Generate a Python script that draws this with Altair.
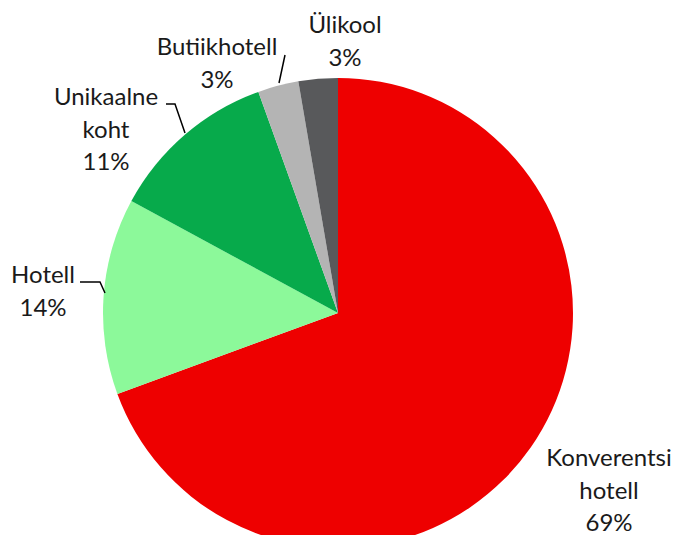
import altair as alt
import pandas as pd

# ---- data ----
categories = ["Konverentsi hotell", "Hotell", "Unikaalne koht", "Butiikhotell", "Ülikool"]
shares = [69.4, 13.5, 11.6, 2.8, 2.7]
label_texts = ["Konverentsi\nhotell\n69%", "Hotell\n14%", "Unikaalne\nkoht\n11%", "Butiikhotell\n3%", "Ülikool\n3%"]
colors = ["#EE0000", "#8CF99A", "#07AA4B", "#B4B4B4", "#58595B"]

# ---- layout (label anchors = first-line centres, leader lines; pixels) ----
label_x = [601, 35, 98, 209, 337]
label_y = [451, 268, 90, 40, 18]
leader_id = ["u", "u", "u", "b", "b", "h", "h", "h"]
leader_x = [158, 167, 177, 277, 271, 72, 92, 97]
leader_y = [96, 96, 125, 47, 75, 274, 274, 285]
leader_ord = [0, 1, 2, 0, 1, 0, 1, 2]

pie_df = pd.DataFrame({"kategooria": categories, "osakaal": shares, "jrk": list(range(len(categories)))})
lab_df = pd.DataFrame({"kategooria": categories, "tekst": label_texts, "lx": label_x, "ly": label_y})
lead_df = pd.DataFrame({"id": leader_id, "x": leader_x, "y": leader_y, "o": leader_ord})

pie = alt.Chart(pie_df).mark_arc(outerRadius=235, stroke=None).encode(
    theta=alt.Theta("osakaal:Q", stack=True),
    order=alt.Order("jrk:Q"),
    color=alt.Color("kategooria:N", scale=alt.Scale(domain=categories, range=colors), legend=None),
    x=alt.value(330),
    y=alt.value(305),
)

labels = alt.Chart(lab_df).mark_text(
    font="Lato", fontSize=24, color="#1a1a1a", lineBreak="\n", lineHeight=32.5,
    align="center", baseline="middle",
).encode(
    x=alt.X("lx:Q", scale=None),
    y=alt.Y("ly:Q", scale=None),
    text="tekst:N",
)

leaders = alt.Chart(lead_df).mark_line(color="#000000", strokeWidth=1.5).encode(
    x=alt.X("x:Q", scale=None),
    y=alt.Y("y:Q", scale=None),
    detail="id:N",
    order="o:Q",
)

chart = alt.layer(pie, leaders, labels).properties(
    width=665, height=527,
    autosize=alt.AutoSizeParams(type="none"),
    padding=0,
).configure_view(stroke=None)

chart.save("out.html", embed_options={"renderer": "svg", "actions": False})
